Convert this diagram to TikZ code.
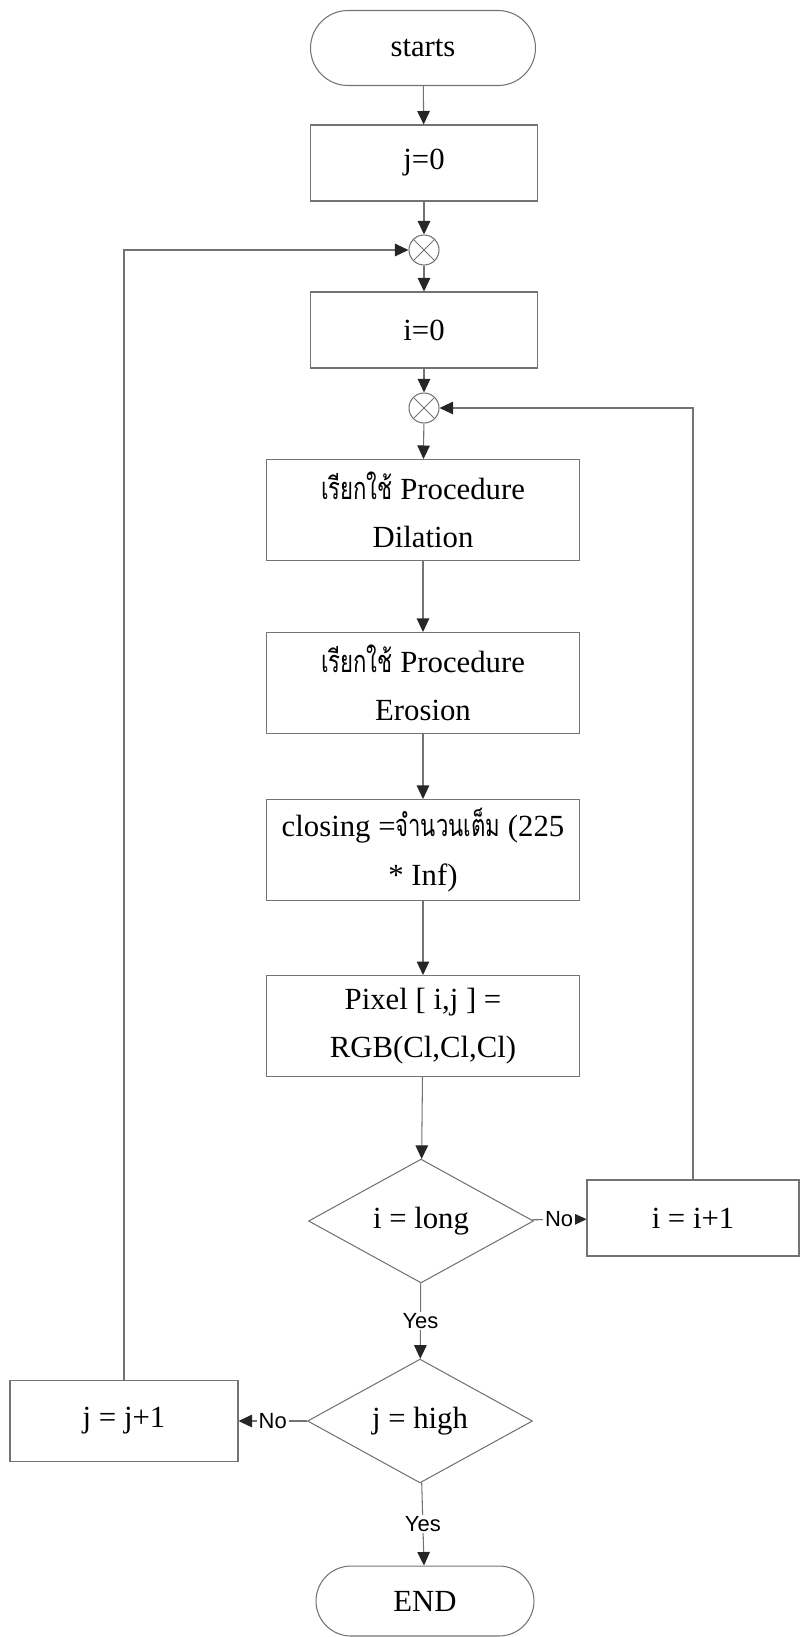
\documentclass[tikz,border=0pt]{standalone}
\usepackage{graphicx}
\usepackage{fontspec}
\setmainfont{Liberation Serif}
\setsansfont{Liberation Sans}
\newfontfamily\thaifont[Script=Thai]{Loma}
\newcommand\thaitext[1]{\scalebox{0.72}[1]{\thaifont #1}}
\usetikzlibrary{arrows.meta,shapes.geometric,shapes.misc}

\begin{document}
\begin{tikzpicture}[x=0.02cm,y=-0.02cm,
  base/.style={draw=black!55,line width=0.6pt,align=center,inner sep=0pt,
    font=\fontsize{17.5}{27.5}\selectfont},
  term/.style={base,rounded rectangle,minimum width=4.5cm,minimum height=1.5cm},
  sbox/.style={base,rectangle,minimum width=4.54cm,minimum height=1.52cm},
  bbox/.style={base,rectangle,minimum width=6.26cm,minimum height=2.02cm},
  cond/.style={base,diamond,minimum width=4.5cm,minimum height=2.06cm},
  junc/.style={draw=black!55,line width=0.6pt,circle,minimum size=0.6cm,inner sep=0pt,
    path picture={\draw[black!55,line width=0.5pt]
      (path picture bounding box.north west) -- (path picture bounding box.south east)
      (path picture bounding box.north east) -- (path picture bounding box.south west);}},
  arr/.style={draw=black!55,line width=0.6pt,
    -{Triangle[length=0.27cm,width=0.25cm,fill=black!85,color=black!85]}},
  lbl/.style={fill=white,inner sep=1pt,font=\sffamily\fontsize{12.5}{14}\selectfont}
]
  \useasboundingbox (0,0) rectangle (801,1637);
  % main column
  \node[term] (start) at (423,48) {starts};
  \node[sbox] (jzero) at (424,163) {j=0};
  \node[junc] (jjoin) at (424,250) {};
  \node[sbox] (izero) at (424,330) {i=0};
  \node[junc] (ijoin) at (424,408) {};
  \node[bbox] (dilate) at (423,510) {\thaitext{เรียกใช้} Procedure\\Dilation};
  \node[bbox] (erode) at (423,683) {\thaitext{เรียกใช้} Procedure\\Erosion};
  \node[bbox] (closing) at (423,850) {closing =\thaitext{จำนวนเต็ม} (225\\* Inf)};
  \node[bbox] (pixel) at (423,1026) {Pixel [ i,j ] =\\RGB(Cl,Cl,Cl)};
  \node[cond] (ilong) at (421,1221) {i = long};
  \node[sbox,minimum width=4.24cm] (iinc) at (693,1218) {i = i+1};
  \node[cond] (jhigh) at (420,1421) {j = high};
  \node[sbox,minimum width=4.56cm,minimum height=1.62cm] (jinc) at (124,1421) {j = j+1};
  \node[term,minimum width=4.36cm,minimum height=1.4cm] (stop) at (425,1601) {END};

  % flow
  \draw[arr] (start) -- (jzero);
  \draw[arr] (jzero) -- (jjoin);
  \draw[arr] (jjoin) -- (izero);
  \draw[arr] (izero) -- (ijoin);
  \draw[arr] (ijoin) -- (dilate);
  \draw[arr] (dilate) -- (erode);
  \draw[arr] (erode) -- (closing);
  \draw[arr] (closing) -- (pixel);
  \draw[arr] (pixel) -- (ilong);
  \draw[arr] (ilong) -- node[lbl] {Yes} (jhigh);
  \draw[arr] (jhigh) -- node[lbl] {Yes} (stop);
  \draw[arr] (ilong) -- node[lbl] {No} (iinc);
  \draw[arr] (jhigh) -- node[lbl] {No} (jinc);
  % loops
  \draw[arr] (iinc.north) |- (ijoin);
  \draw[arr] (jinc.north) |- (jjoin);
\end{tikzpicture}
\end{document}
